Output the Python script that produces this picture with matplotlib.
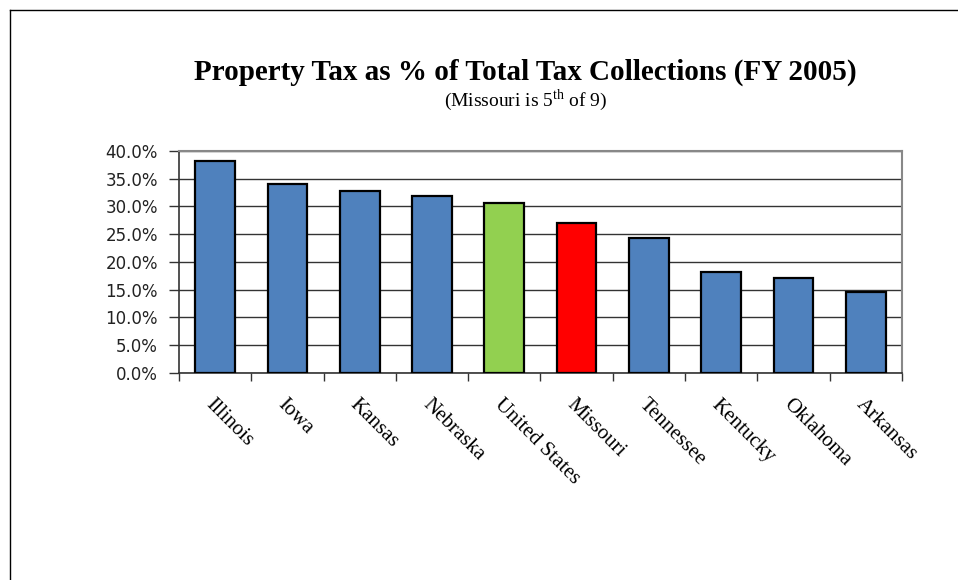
import matplotlib.pyplot as plt
from matplotlib.lines import Line2D
from matplotlib.ticker import FuncFormatter

plt.rcParams['mathtext.fontset'] = 'custom'
plt.rcParams['mathtext.rm'] = 'Liberation Serif'

states = ['Illinois', 'Iowa', 'Kansas', 'Nebraska', 'United States',
          'Missouri', 'Tennessee', 'Kentucky', 'Oklahoma', 'Arkansas']
share = [38.2, 34.0, 32.8, 31.9, 30.6, 27.0, 24.3, 18.2, 17.2, 14.6]
colors = ['#4F81BD'] * 4 + ['#92D050', '#FF0000'] + ['#4F81BD'] * 4

fig = plt.figure(figsize=(9.58, 5.8), dpi=100)
ax = fig.add_axes([0.1868, 0.3569, 0.7547, 0.3828])

x = range(len(states))
ax.bar(x, share, width=0.55, color=colors, edgecolor='black', linewidth=1.6, zorder=3)

ax.set_xlim(-0.5, len(states) - 0.5)
ax.set_ylim(0, 40)
ax.set_yticks([i * 5 for i in range(9)])
ax.yaxis.set_major_formatter(FuncFormatter(lambda v, p: '%.1f%%' % v))
ax.yaxis.grid(True, color='#333333', linewidth=1.0, zorder=0)
ax.tick_params(axis='y', labelsize=12, length=7, width=1, color='#333333',
               labelcolor='#222222', pad=8)

# ticks between categories, labels at centres
ax.set_xticks([i - 0.5 for i in range(len(states) + 1)])
ax.set_xticklabels([])
ax.set_xticks(list(x), minor=True)
ax.set_xticklabels(states, minor=True, rotation=-45, ha='left', va='top',
                   rotation_mode='anchor', family='Liberation Serif', fontsize=15)
ax.tick_params(axis='x', which='major', length=6, width=1, color='#333333')
ax.tick_params(axis='x', which='minor', length=0, pad=16)

for side in ['top', 'right']:
    ax.spines[side].set_color('#888888')
    ax.spines[side].set_linewidth(1.5)
for side in ['left', 'bottom']:
    ax.spines[side].set_color('#333333')
    ax.spines[side].set_linewidth(1.2)

fig.text(0.548, 0.875, 'Property Tax as % of Total Tax Collections (FY 2005)',
         ha='center', va='center', family='Liberation Serif',
         fontweight='bold', fontsize=21)
fig.text(0.549, 0.827, r'(Missouri is 5$^{\mathrm{th}}$ of 9)',
         ha='center', va='center', family='Liberation Serif', fontsize=14)

# outer frame
fig.add_artist(Line2D([10 / 958, 10 / 958], [0, 1 - 10 / 580], color='black', linewidth=1))
fig.add_artist(Line2D([10 / 958, 1], [1 - 10 / 580, 1 - 10 / 580], color='black', linewidth=1))

fig.savefig('out.png', dpi=100)
